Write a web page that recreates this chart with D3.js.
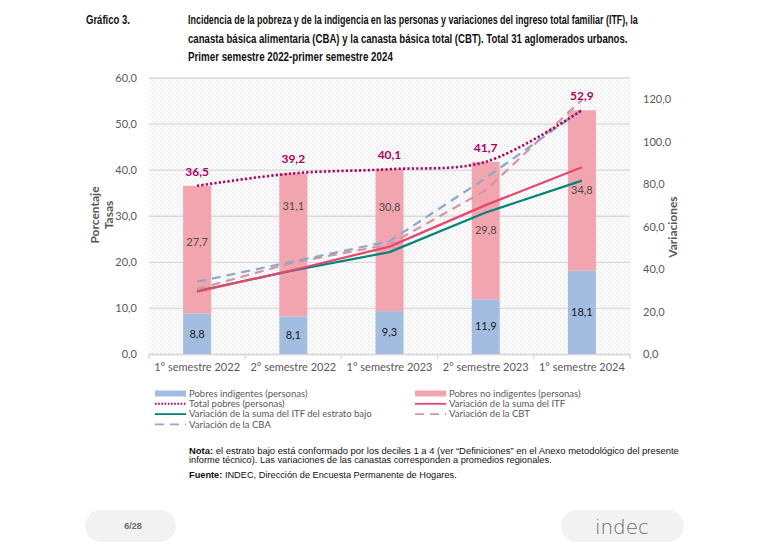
<!DOCTYPE html>
<html>
<head>
<meta charset="utf-8">
<script src="https://cdn.jsdelivr.net/npm/d3@7"></script>
<style>
  body { margin: 0; background: #fff; }
  svg { display: block; }
  .tick text { font-family: Lato, "Open Sans", sans-serif; }
</style>
</head>
<body>
<div id="chart"></div>
<script>
// datos
const categorias = ['1° semestre 2022', '2° semestre 2022', '1° semestre 2023', '2° semestre 2023', '1° semestre 2024'];
const indigentes = [8.8, 8.1, 9.3, 11.9, 18.1];
const noIndigentes = [27.7, 31.1, 30.8, 29.8, 34.8];
const totalPobres = [36.5, 39.2, 40.1, 41.7, 52.9];
const varItf = [29.3, 39.5, 50.5, 70.0, 87.8];
const varItfBajo = [29.6, 39.3, 47.9, 66.5, 81.5];
const varCbt = [30.5, 43.0, 51.5, 77.0, 119.5];
const varCba = [34.0, 43.5, 53.0, 82.7, 114.9];
const ticksTasas = [0, 10, 20, 30, 40, 50, 60];
const ticksVar = [0, 20, 40, 60, 80, 100, 120];

const W = 782, H = 544;
const plot = { left: 149, right: 630, top: 77.5, bottom: 354 };
const fmt = v => d3.format('.1f')(v).replace('.', ',');
const chartFont = 'Lato, "Open Sans", sans-serif';
const gris = '#595959';

const svg = d3.select('#chart').append('svg')
  .attr('width', W)
  .attr('height', H);

// fondo rayado del area
const defs = svg.append('defs');
const pat = defs.append('pattern')
  .attr('id', 'rayas')
  .attr('patternUnits', 'userSpaceOnUse')
  .attr('width', 4).attr('height', 4);
pat.append('rect').attr('width', 4).attr('height', 4).attr('fill', '#fff');
pat.append('path').attr('d', 'M-1,1 l2,2 M0,0 l4,4 M3,-1 l2,2')
  .attr('stroke', '#e2e2e2').attr('stroke-width', 0.7);

svg.append('rect')
  .attr('x', plot.left).attr('y', plot.top)
  .attr('width', plot.right - plot.left).attr('height', plot.bottom - plot.top)
  .attr('fill', 'url(#rayas)');

const x = d3.scaleBand().domain(categorias).range([plot.left, plot.right]);
const yL = d3.scaleLinear().domain([0, 60]).range([plot.bottom, plot.top]);
const yR = d3.scaleLinear().domain([0, 130]).range([plot.bottom, plot.top]);

// grilla
svg.append('g')
  .attr('transform', 'translate(' + plot.left + ',0)')
  .call(d3.axisLeft(yL).tickValues(ticksTasas).tickSize(-(plot.right - plot.left)).tickFormat(''))
  .call(g => g.select('.domain').remove())
  .call(g => g.selectAll('line').attr('stroke', '#d9d9d9').attr('stroke-width', 1.3));

// eje izquierdo
svg.append('g')
  .attr('transform', 'translate(' + (plot.left - 9) + ',0)')
  .call(d3.axisLeft(yL).tickValues(ticksTasas).tickSize(0).tickFormat(fmt))
  .call(g => g.select('.domain').remove())
  .call(g => g.selectAll('text').attr('fill', gris).attr('font-size', 11).attr('dy', '0.35em'));

// eje derecho
svg.append('g')
  .attr('transform', 'translate(' + (plot.right + 10) + ',0)')
  .call(d3.axisRight(yR).tickValues(ticksVar).tickSize(0).tickFormat(fmt))
  .call(g => g.select('.domain').remove())
  .call(g => g.selectAll('text').attr('fill', gris).attr('font-size', 11).attr('dy', '0.35em'));

// eje x
const xAxis = svg.append('g')
  .attr('transform', 'translate(0,' + plot.bottom + ')')
  .call(d3.axisBottom(x).tickSize(0).tickPadding(9))
  .call(g => g.select('.domain').attr('stroke', '#d9d9d9').attr('stroke-width', 1.3))
  .call(g => g.selectAll('text').attr('fill', gris).attr('font-size', 11));
xAxis.selectAll('.sep')
  .data(d3.range(categorias.length + 1))
  .join('line')
  .attr('class', 'sep')
  .attr('x1', i => plot.left + i * x.step()).attr('x2', i => plot.left + i * x.step())
  .attr('y1', 0).attr('y2', 5)
  .attr('stroke', '#d9d9d9').attr('stroke-width', 1.3);

// barras apiladas
const bw = 28;
const cx = c => x(c) + x.bandwidth() / 2;

svg.append('g').selectAll('rect')
  .data(categorias)
  .join('rect')
  .attr('x', c => cx(c) - bw / 2)
  .attr('width', bw)
  .attr('y', (c, i) => yL(indigentes[i]))
  .attr('height', (c, i) => yL(0) - yL(indigentes[i]))
  .attr('fill', '#a3bde0');

svg.append('g').selectAll('rect')
  .data(categorias)
  .join('rect')
  .attr('x', c => cx(c) - bw / 2)
  .attr('width', bw)
  .attr('y', (c, i) => yL(indigentes[i] + noIndigentes[i]))
  .attr('height', (c, i) => yL(indigentes[i]) - yL(indigentes[i] + noIndigentes[i]))
  .attr('fill', '#f2a5ae');

// lineas de variacion (eje derecho)
const lineR = d3.line().x((d, i) => cx(categorias[i])).y(d => yR(d));
const series = [
  { vals: varItfBajo, color: '#00857c', dash: null },
  { vals: varItf, color: '#e8466f', dash: null },
  { vals: varCbt, color: '#d4959f', dash: '9 6' },
  { vals: varCba, color: '#8fa7c9', dash: '9 6' }
];
series.forEach(s => {
  svg.append('path')
    .datum(s.vals)
    .attr('d', lineR)
    .attr('fill', 'none')
    .attr('stroke', s.color)
    .attr('stroke-width', 2.2)
    .attr('stroke-dasharray', s.dash);
});

// total pobres punteado (eje izquierdo)
const lineL = d3.line().x((d, i) => cx(categorias[i])).y(d => yL(d)).curve(d3.curveCatmullRom);
svg.append('path')
  .datum(totalPobres)
  .attr('d', lineL)
  .attr('fill', 'none')
  .attr('stroke', '#b0005f')
  .attr('stroke-width', 2.6)
  .attr('stroke-dasharray', '2.2 2.2');

// etiquetas
svg.append('g').selectAll('text')
  .data(categorias)
  .join('text')
  .attr('x', cx)
  .attr('y', (c, i) => yL(totalPobres[i]) - 10)
  .attr('text-anchor', 'middle')
  .attr('font-family', chartFont)
  .attr('font-size', 12)
  .attr('font-weight', 'bold')
  .attr('fill', '#b0005f')
  .text((c, i) => fmt(totalPobres[i]));

svg.append('g').selectAll('text')
  .data(categorias)
  .join('text')
  .attr('x', cx)
  .attr('y', (c, i) => yL(indigentes[i] / 2))
  .attr('dy', '0.35em')
  .attr('text-anchor', 'middle')
  .attr('font-family', chartFont)
  .attr('font-size', 11)
  .attr('fill', '#1a1a1a')
  .text((c, i) => fmt(indigentes[i]));

// las etiquetas del tramo rosa no estan centradas en el original
const lugarEtiq = [0.56, 0.77, 0.73, 0.5, 0.5];
svg.append('g').selectAll('text')
  .data(categorias)
  .join('text')
  .attr('x', cx)
  .attr('y', (c, i) => yL(indigentes[i] + noIndigentes[i] * lugarEtiq[i]))
  .attr('dy', '0.35em')
  .attr('text-anchor', 'middle')
  .attr('font-family', chartFont)
  .attr('font-size', 11)
  .attr('fill', '#4d4d4d')
  .text((c, i) => fmt(noIndigentes[i]));

// titulos de ejes
const axTitle = (txt, px, py) => svg.append('text')
  .attr('transform', 'translate(' + px + ',' + py + ') rotate(-90)')
  .attr('text-anchor', 'middle')
  .attr('font-family', chartFont)
  .attr('font-size', 12)
  .attr('font-weight', 'bold')
  .attr('fill', gris)
  .text(txt);
axTitle('Porcentaje', 99, 215);
axTitle('Tasas', 113, 215);
axTitle('Variaciones', 677, 227);

// leyenda
const leyenda = [
  { t: 'Pobres indigentes (personas)', tipo: 'rect', color: '#a3bde0', col: 0, fila: 0 },
  { t: 'Pobres no indigentes (personas)', tipo: 'rect', color: '#f2a5ae', col: 1, fila: 0 },
  { t: 'Total pobres (personas)', tipo: 'line', color: '#b0005f', dash: '1.6 1.6', col: 0, fila: 1 },
  { t: 'Variación de la suma del ITF', tipo: 'line', color: '#e8466f', col: 1, fila: 1 },
  { t: 'Variación de la suma del ITF del estrato bajo', tipo: 'line', color: '#00857c', col: 0, fila: 2 },
  { t: 'Variación de la CBT', tipo: 'line', color: '#d4959f', dash: '9 6', col: 1, fila: 2 },
  { t: 'Variación de la CBA', tipo: 'line', color: '#8fa7c9', dash: '9 6', col: 0, fila: 3 }
];
const lg = svg.append('g').attr('font-family', chartFont).attr('font-size', 9.5).attr('fill', gris);
leyenda.forEach(d => {
  const x0 = d.col === 0 ? 155 : 415;
  const y0 = 393.5 + d.fila * 10.3;
  if (d.tipo === 'rect') {
    lg.append('rect').attr('x', x0).attr('y', y0 - 3).attr('width', 31).attr('height', 6).attr('fill', d.color);
  } else {
    lg.append('line').attr('x1', x0).attr('x2', x0 + 31).attr('y1', y0).attr('y2', y0)
      .attr('stroke', d.color).attr('stroke-width', d.dash && d.dash[0] === '1' ? 2 : 1.8)
      .attr('stroke-dasharray', d.dash || null);
  }
  lg.append('text').attr('x', x0 + 34).attr('y', y0).attr('dy', '0.35em').text(d.t);
});

// ajusta un texto al ancho del original escalandolo en horizontal
function fitText (sel, px, py, width) {
  const len = sel.node().getComputedTextLength();
  sel.attr('x', 0).attr('y', 0)
    .attr('transform', 'translate(' + px + ',' + py + ') scale(' + (width / len) + ',1)');
}

// titulo
const titleFont = '"Liberation Sans Narrow", "Arial Narrow", "Liberation Sans", sans-serif';
const tt = svg.append('g').attr('font-family', titleFont).attr('font-weight', 'bold').attr('font-size', 12).attr('fill', '#111');
fitText(tt.append('text').text('Gráfico 3.'), 86, 24, 44);
const lineasTitulo = [
  ['Incidencia de la pobreza y de la indigencia en las personas y variaciones del ingreso total familiar (ITF), la', 450],
  ['canasta básica alimentaria (CBA) y la canasta básica total (CBT). Total 31 aglomerados urbanos.', 440],
  ['Primer semestre 2022-primer semestre 2024', 205]
];
lineasTitulo.forEach((l, i) => {
  fitText(tt.append('text').text(l[0]), 188, 24 + i * 18.5, l[1]);
});

// nota y fuente
const nf = svg.append('g').attr('font-family', '"Liberation Sans", Arial, sans-serif').attr('font-size', 9).attr('fill', '#111');
const n1 = nf.append('text');
n1.append('tspan').attr('font-weight', 'bold').text('Nota:');
n1.append('tspan').text(' el estrato bajo está conformado por los deciles 1 a 4 (ver “Definiciones” en el Anexo metodológico del presente');
fitText(n1, 189, 454, 490);
fitText(nf.append('text').text('informe técnico). Las variaciones de las canastas corresponden a promedios regionales.'), 189, 462.5, 363);
const f1 = nf.append('text');
f1.append('tspan').attr('font-weight', 'bold').text('Fuente:');
f1.append('tspan').text(' INDEC, Dirección de Encuesta Permanente de Hogares.');
fitText(f1, 189, 478, 268);

// pie de pagina
svg.append('rect').attr('x', 85).attr('y', 510).attr('width', 91).attr('height', 32).attr('rx', 16).attr('fill', '#f2f2f2');
svg.append('text').attr('x', 133).attr('y', 526).attr('dy', '0.35em').attr('text-anchor', 'middle')
  .attr('font-family', '"Liberation Sans", Arial, sans-serif').attr('font-size', 9).attr('font-weight', 'bold')
  .attr('fill', '#6b6b6b').text('6/28');
svg.append('rect').attr('x', 561).attr('y', 510).attr('width', 123).attr('height', 32).attr('rx', 16).attr('fill', '#f2f2f2');
svg.append('text').attr('x', 622).attr('y', 527).attr('dy', '0.35em').attr('text-anchor', 'middle')
  .attr('font-family', '"DejaVu Sans", sans-serif').attr('font-size', 20).attr('font-weight', 300)
  .attr('fill', '#6b6b6b').text('indec');
</script>
</body>
</html>
